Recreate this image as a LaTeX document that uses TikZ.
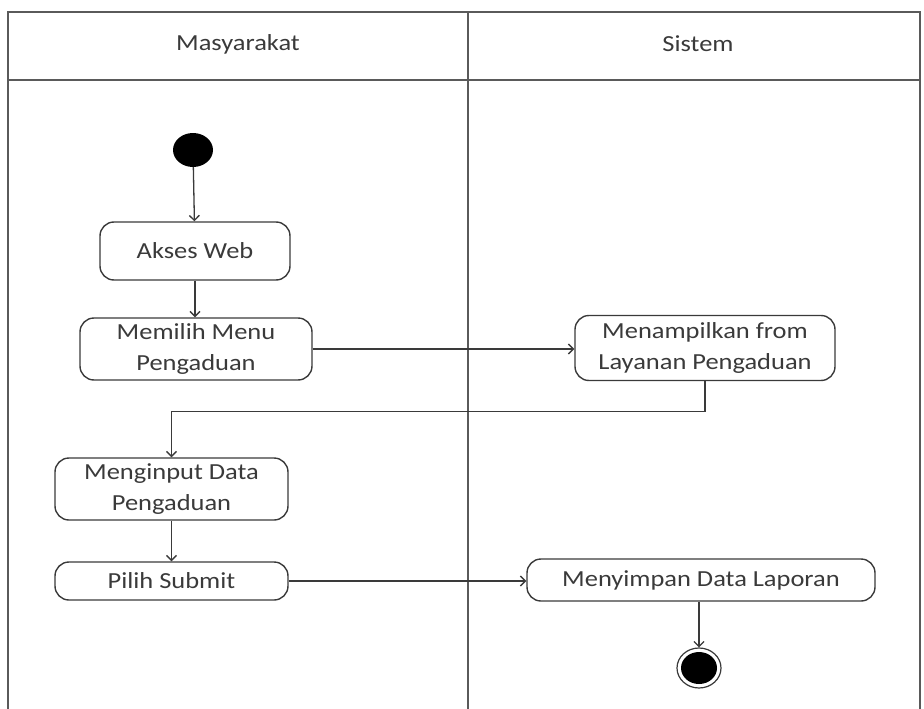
\documentclass[tikz,border=0pt]{standalone}
\usepackage{fontspec}
\setmainfont{Carlito}[FakeStretch=1.15]
\usetikzlibrary{arrows.meta,shapes.geometric}
\definecolor{ink}{HTML}{3A3A3A}
\definecolor{frame}{HTML}{5A5A5A}
\begin{document}
\begin{tikzpicture}[x=1pt,y=-1pt,
  lane/.style={draw=frame,line width=1.6pt},
  act/.style={draw=ink,line width=1.4pt,rounded corners=14pt,align=center,
    font=\fontsize{23}{31}\selectfont,text=ink,inner sep=0pt},
  flow/.style={draw=ink,line width=1.3pt,-{Straight Barb[length=5pt,width=10pt]}},
  lbl/.style={font=\fontsize{23}{28}\selectfont,text=ink}]
  \useasboundingbox (0,0) rectangle (924,709);
  % swimlane frame
  \draw[lane] (8,712) -- (8,12) -- (920,12) -- (920,712);
  \draw[lane] (8,80) -- (920,80);
  \draw[lane] (468,12) -- (468,712);
  \node[lbl] (lmas) at (238,44) {Masyarakat};
  \node[lbl] (lsis) at (698,44) {Sistem};
  % start and end
  \node[ellipse,fill=black,minimum width=40pt,minimum height=34pt,inner sep=0pt] (start) at (193,150) {};
  \node[ellipse,draw=ink,line width=1.2pt,minimum width=44pt,minimum height=40pt,inner sep=0pt] (end) at (699,668) {};
  \node[ellipse,fill=black,minimum width=36pt,minimum height=32pt,inner sep=0pt] (endin) at (end) {};
  % activities
  \node[act,minimum width=190pt,minimum height=58pt] (akses) at (195,251) {Akses Web};
  \node[act,minimum width=232pt,minimum height=62pt] (memilih) at (196,349) {Memilih Menu\\Pengaduan};
  \node[act,minimum width=260pt,minimum height=65pt] (tampil) at (705,348) {Menampilkan from\\Layanan Pengaduan};
  \node[act,minimum width=233pt,minimum height=62pt] (input) at (171.5,489) {Menginput Data\\Pengaduan};
  \node[act,minimum width=233pt,minimum height=38pt] (pilih) at (171.5,581) {Pilih Submit};
  \node[act,minimum width=348pt,minimum height=42pt] (simpan) at (701,580) {Menyimpan Data Laporan};
  % transitions
  \draw[flow] (start) -- (akses);
  \draw[flow] (akses) -- (akses |- memilih.north);
  \draw[flow] (memilih.east) -- (memilih.east -| tampil.west);
  \draw[flow] (tampil.south) -- ++(0,30) -| (input.north);
  \draw[flow] (input) -- (pilih);
  \draw[flow] (pilih.east) -- (pilih.east -| simpan.west);
  \draw[flow] (simpan.south -| end) -- (end);
\end{tikzpicture}
\end{document}
